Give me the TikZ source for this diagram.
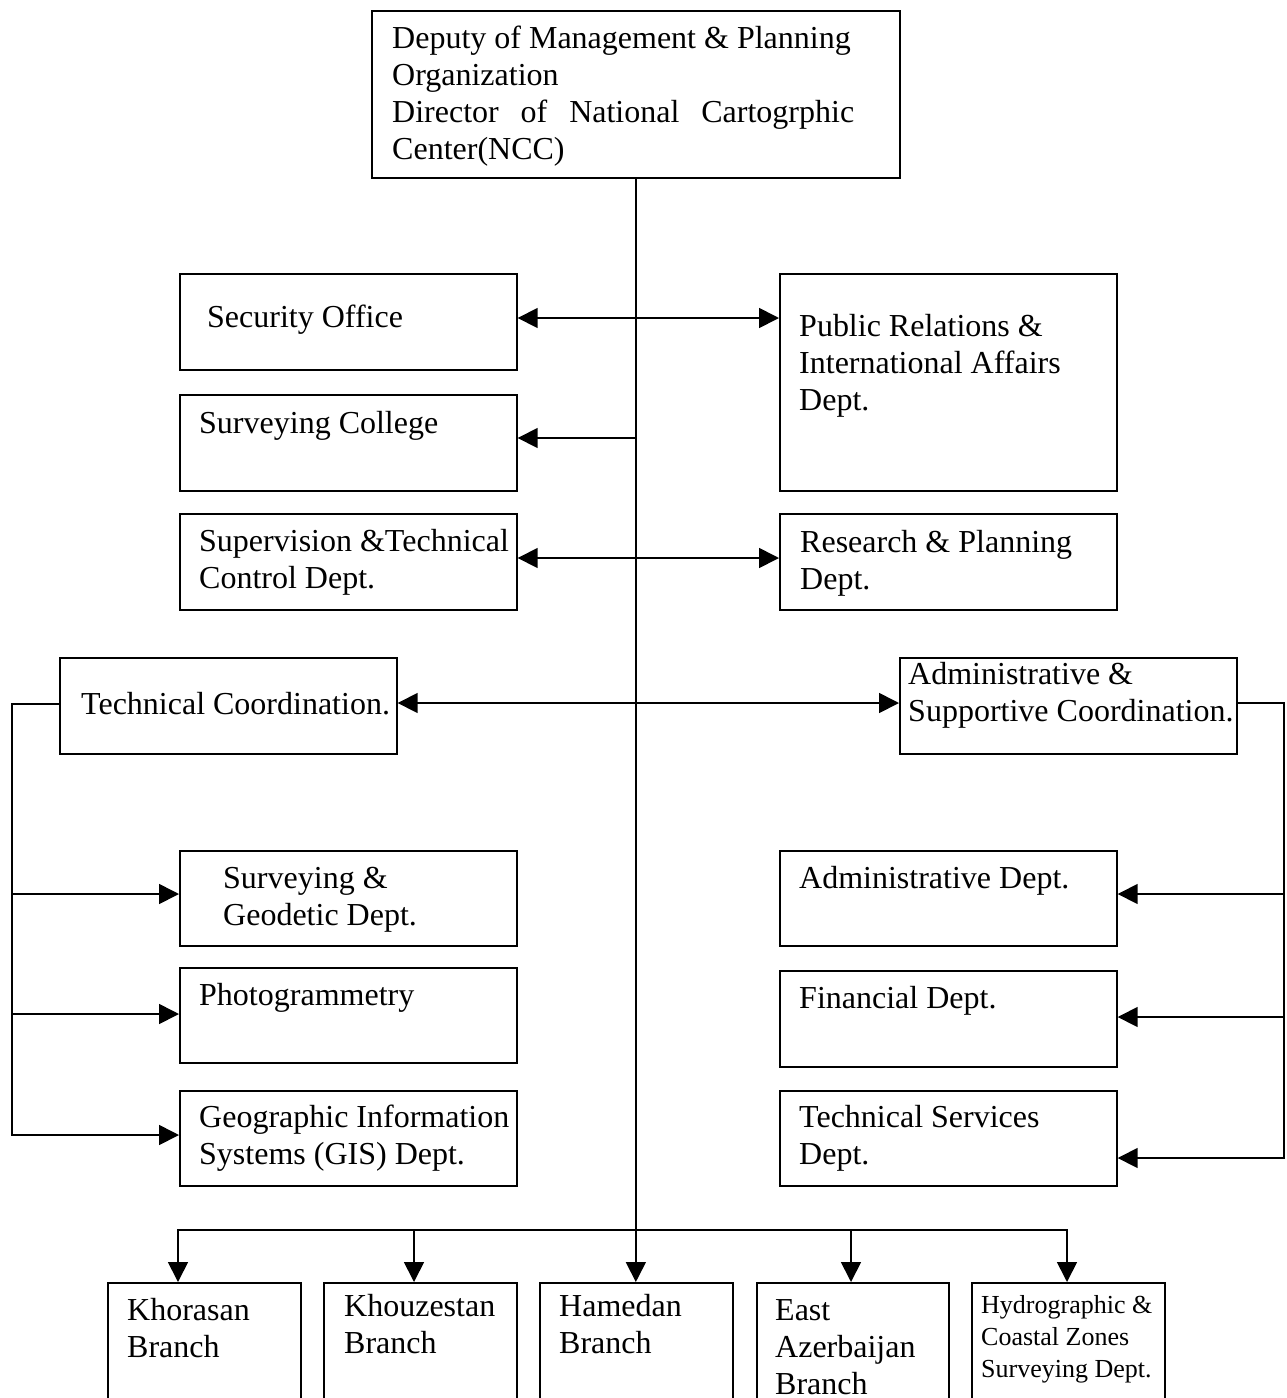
\documentclass[tikz,border=0pt]{standalone}
\usepackage{fontspec}
\setmainfont{Liberation Serif}
\usetikzlibrary{arrows.meta}
\tikzset{
  box/.style={draw, line width=1.7pt, inner sep=0pt, anchor=north west, rectangle},
  txt/.style={inner sep=0pt, anchor=base west, align=left, font=\fontsize{32}{37}\selectfont},
  smalltxt/.style={inner sep=0pt, anchor=base west, align=left, font=\fontsize{26}{32}\selectfont},
  ln/.style={line width=1.7pt},
  arr/.style={ln, -{Triangle[length=20pt,width=20pt]}},
  dbl/.style={ln, {Triangle[length=20pt,width=20pt]}-{Triangle[length=20pt,width=20pt]}},
}
\begin{document}
\begin{tikzpicture}[x=1pt,y=-1pt]
\useasboundingbox (0,0) rectangle (1287,1398);
\clip (0,0) rectangle (1287,1398);
% boxes
\node[box, minimum width=528pt, minimum height=167pt] (top) at (371,10) {};
\node[box, minimum width=337pt, minimum height=96pt] (sec) at (179,273) {};
\node[box, minimum width=337pt, minimum height=96pt] (col) at (179,394) {};
\node[box, minimum width=337pt, minimum height=96pt] (sup) at (179,513) {};
\node[box, minimum width=337pt, minimum height=217pt] (pub) at (779,273) {};
\node[box, minimum width=337pt, minimum height=96pt] (res) at (779,513) {};
\node[box, minimum width=337pt, minimum height=96pt] (tc) at (59,657) {};
\node[box, minimum width=337pt, minimum height=96pt] (ac) at (899,657) {};
\node[box, minimum width=337pt, minimum height=95pt] (sg) at (179,850) {};
\node[box, minimum width=337pt, minimum height=95pt] (ph) at (179,967) {};
\node[box, minimum width=337pt, minimum height=95pt] (gis) at (179,1090) {};
\node[box, minimum width=337pt, minimum height=95pt] (ad) at (779,850) {};
\node[box, minimum width=337pt, minimum height=96pt] (fin) at (779,970) {};
\node[box, minimum width=337pt, minimum height=95pt] (ts) at (779,1090) {};
\node[box, minimum width=193pt, minimum height=140pt] (kh) at (107,1282) {};
\node[box, minimum width=193pt, minimum height=140pt] (kz) at (323,1282) {};
\node[box, minimum width=193pt, minimum height=140pt] (hm) at (539,1282) {};
\node[box, minimum width=192pt, minimum height=140pt] (ea) at (756,1282) {};
\node[box, minimum width=193pt, minimum height=140pt] (hy) at (971,1282) {};
% texts (base anchor = baseline of the last line)
\node[txt] (topT) at (392,159) {Deputy of Management \& Planning\\Organization\\\hbox to 462pt{Director\hfill of\hfill National\hfill Cartogrphic}\\Center(NCC)};
\node[txt] (secT) at (207,327) {Security Office};
\node[txt] (colT) at (199,433) {Surveying College};
\node[txt] (supT) at (199,588) {Supervision \&Technical\\Control Dept.};
\node[txt] (pubT) at (799,410) {Public Relations \&\\International Affairs\\Dept.};
\node[txt] (resT) at (800,589) {Research \& Planning\\Dept.};
\node[txt] (tcT) at (81,714) {Technical Coordination.};
\node[txt] (acT) at (908,721) {Administrative \&\\Supportive Coordination.};
\node[txt] (sgT) at (223,925) {Surveying \&\\Geodetic Dept.};
\node[txt] (phT) at (199,1005) {Photogrammetry};
\node[txt] (gisT) at (199,1164) {Geographic Information\\Systems (GIS) Dept.};
\node[txt] (adT) at (799,888) {Administrative Dept.};
\node[txt] (finT) at (799,1008) {Financial Dept.};
\node[txt] (tsT) at (799,1164) {Technical Services\\Dept.};
\node[txt] (khT) at (127,1357) {Khorasan\\Branch};
\node[txt] (kzT) at (344,1353) {Khouzestan\\Branch};
\node[txt] (hmT) at (559,1353) {Hamedan\\Branch};
\node[txt] (eaT) at (775,1394) {East\\Azerbaijan\\Branch};
\node[smalltxt] (hyT) at (981,1377) {Hydrographic \&\\Coastal Zones\\Surveying Dept.};
% spine
\coordinate (sp) at (635,1230);
\draw[arr] (top.south) -- (top.south |- hm.north);
\coordinate (s1) at (635,318);
\coordinate (s2) at (635,438);
\coordinate (s3) at (635,558);
\coordinate (s4) at (635,703);
\draw[dbl] (sec.east |- s1) -- (pub.west |- s1);
\draw[arr] (s2) -- (col.east |- s2);
\draw[dbl] (sup.east |- s3) -- (res.west |- s3);
\draw[dbl] (tc.east |- s4) -- (ac.west |- s4);
% left bus
\coordinate (lb0) at (12,704);
\coordinate (lb1) at (12,894);
\coordinate (lb2) at (12,1014);
\coordinate (lb3) at (12,1135);
\draw[arr] (tc.west |- lb0) -- (lb0) -- (lb3) -- (gis.west |- lb3);
\draw[arr] (lb1) -- (sg.west |- lb1);
\draw[arr] (lb2) -- (ph.west |- lb2);
% right bus
\coordinate (rb0) at (1284,703);
\coordinate (rb1) at (1284,894);
\coordinate (rb2) at (1284,1017);
\coordinate (rb3) at (1284,1158);
\draw[arr] (ac.east |- rb0) -- (rb0) -- (rb3) -- (ts.east |- rb3);
\draw[arr] (rb1) -- (ad.east |- rb1);
\draw[arr] (rb2) -- (fin.east |- rb2);
% bottom bar
\coordinate (b0) at (178,1230);
\coordinate (b1) at (414,1230);
\coordinate (b3) at (851,1230);
\coordinate (b4) at (1067,1230);
\draw[dbl] (b0 |- kh.north) -- (b0) -- (b4) -- (b4 |- hy.north);
\draw[arr] (b1) -- (b1 |- kz.north);
\draw[arr] (b3) -- (b3 |- ea.north);
\end{tikzpicture}
\end{document}
